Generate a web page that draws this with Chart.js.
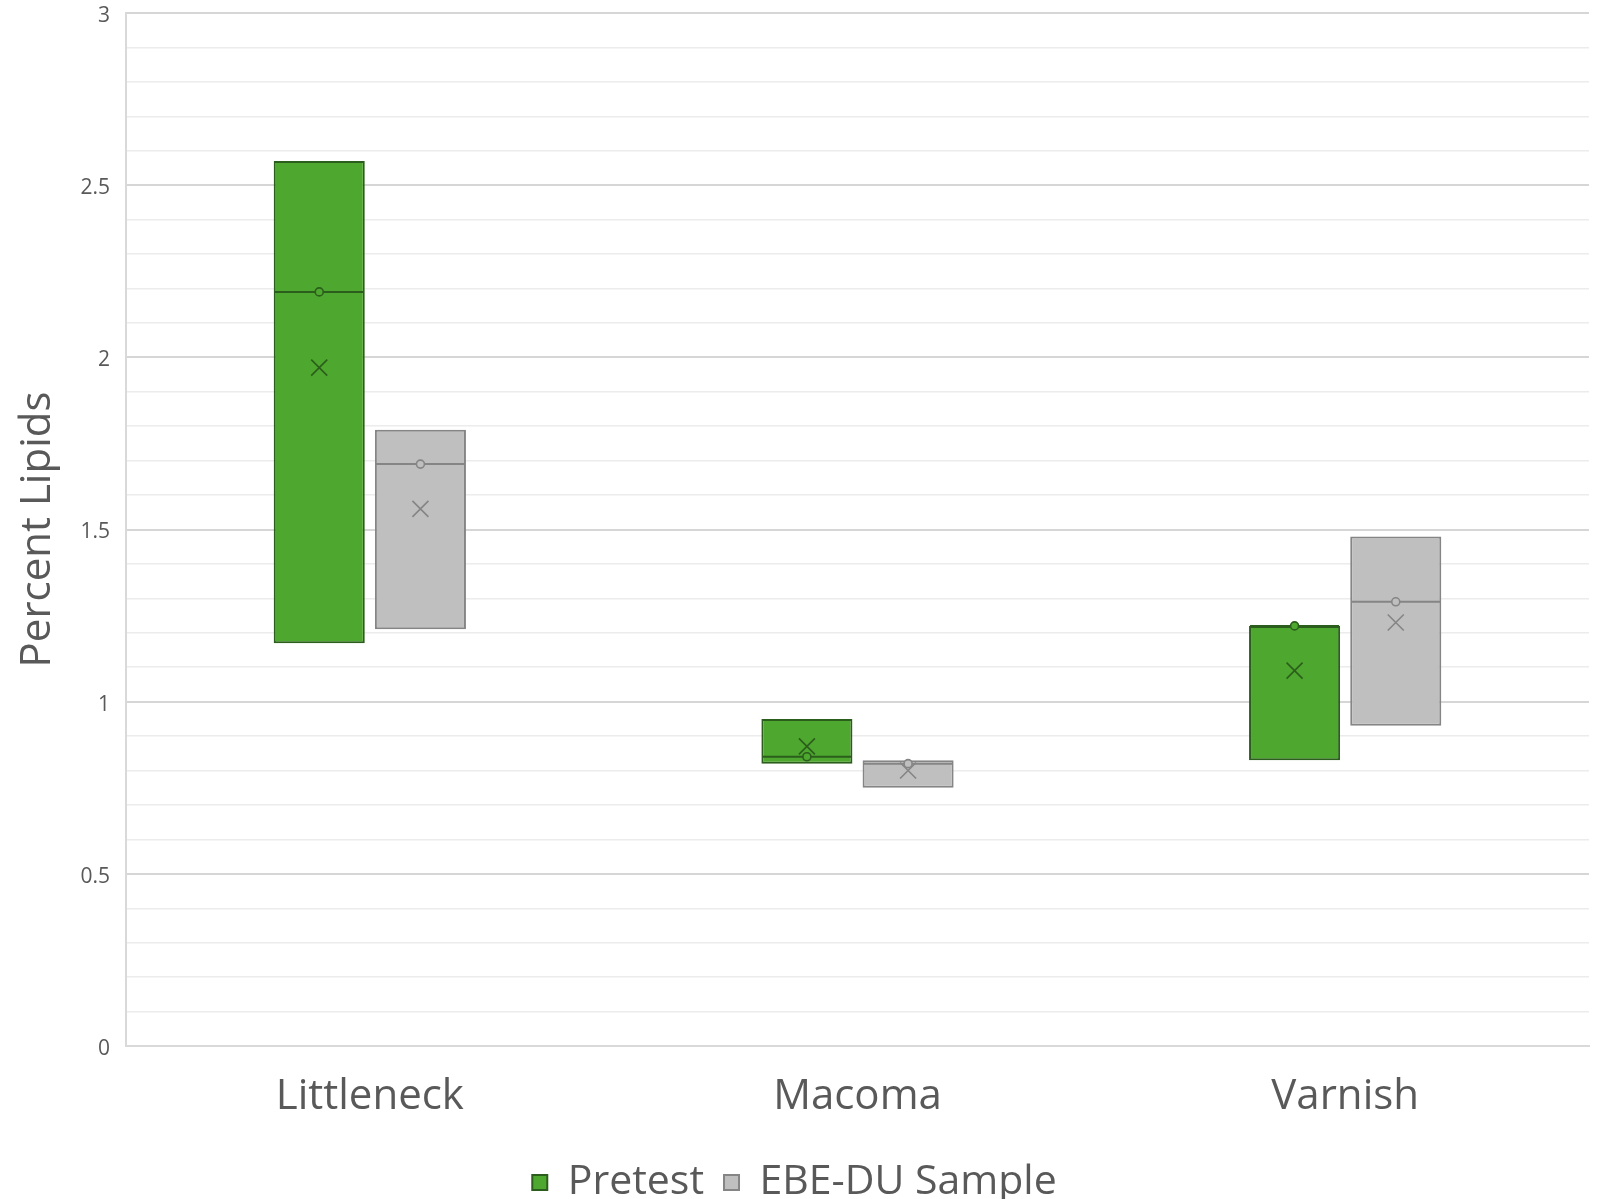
<!DOCTYPE html>
<html>
<head>
<meta charset="utf-8">
<title>Percent Lipids</title>
<script src="https://cdn.jsdelivr.net/npm/chart.js@4"></script>
<style>
  html, body { margin: 0; padding: 0; background: #ffffff; }
  #wrap { width: 1598px; height: 1199px; position: relative; }
</style>
</head>
<body>
<div id="wrap"><canvas id="chart" width="1598" height="1199"></canvas></div>
<script>
// Species groups along the x axis
const categories = ['Littleneck', 'Macoma', 'Varnish'];

// Pretest boxes: lower quartile, upper quartile, median, mean
const pretestQ1 = [1.17, 0.82, 0.83];
const pretestQ3 = [2.57, 0.95, 1.22];
const pretestMedian = [2.19, 0.84, 1.22];
const pretestMean = [1.97, 0.87, 1.09];

// EBE-DU sample boxes
const ebeQ1 = [1.21, 0.75, 0.93];
const ebeQ3 = [1.79, 0.83, 1.48];
const ebeMedian = [1.69, 0.82, 1.29];
const ebeMean = [1.56, 0.80, 1.23];

// Labelled y ticks
const yTickLabels = ['0', '0.5', '1', '1.5', '2', '2.5', '3'];

const TEXT = '#595959';
const FONT = "'Open Sans', 'Noto Sans', sans-serif";

function boxRange(lo, hi) {
  return lo.map((v, i) => [v, hi[i]]);
}

// Draws the median line, median marker and mean cross on each box
const boxMarks = {
  id: 'boxMarks',
  afterDatasetsDraw(chart) {
    const ctx = chart.ctx;
    const yScale = chart.scales.y;
    chart.data.datasets.forEach((ds, di) => {
      const meta = chart.getDatasetMeta(di);
      if (meta.hidden) return;
      meta.data.forEach((bar, i) => {
        const half = bar.width / 2;
        const ym = yScale.getPixelForValue(ds.medians[i]);
        const yMean = yScale.getPixelForValue(ds.means[i]);
        ctx.save();
        ctx.strokeStyle = ds.borderColor;
        ctx.lineWidth = 2;
        ctx.beginPath();
        ctx.moveTo(bar.x - half + 1, ym);
        ctx.lineTo(bar.x + half - 1, ym);
        ctx.stroke();
        ctx.beginPath();
        ctx.arc(bar.x, ym, 4, 0, Math.PI * 2);
        ctx.fillStyle = ds.backgroundColor;
        ctx.fill();
        ctx.lineWidth = 1.6;
        ctx.stroke();
        const s = 8;
        ctx.lineWidth = 1.6;
        ctx.beginPath();
        ctx.moveTo(bar.x - s, yMean - s);
        ctx.lineTo(bar.x + s, yMean + s);
        ctx.moveTo(bar.x + s, yMean - s);
        ctx.lineTo(bar.x - s, yMean + s);
        ctx.stroke();
        ctx.restore();
      });
    });
  }
};

function isHalfStep(v) {
  return Math.abs(v * 2 - Math.round(v * 2)) < 1e-6;
}

new Chart(document.getElementById('chart'), {
  type: 'bar',
  data: {
    labels: categories,
    datasets: [
      {
        label: 'Pretest',
        data: boxRange(pretestQ1, pretestQ3),
        medians: pretestMedian,
        means: pretestMean,
        backgroundColor: '#4ea72e',
        borderColor: '#2b5e1c',
        borderWidth: 2,
        borderSkipped: false,
        categoryPercentage: 0.415,
        barPercentage: 0.9
      },
      {
        label: 'EBE-DU Sample',
        data: boxRange(ebeQ1, ebeQ3),
        medians: ebeMedian,
        means: ebeMean,
        backgroundColor: '#bfbfbf',
        borderColor: '#858585',
        borderWidth: 2,
        borderSkipped: false,
        categoryPercentage: 0.415,
        barPercentage: 0.9
      }
    ]
  },
  options: {
    responsive: false,
    animation: false,
    events: [],
    layout: { padding: { left: 0, right: 9, top: 13, bottom: -14 } },
    plugins: {
      legend: {
        position: 'bottom',
        labels: {
          color: TEXT,
          font: { family: FONT, size: 41 },
          boxWidth: 15,
          boxHeight: 15,
          padding: 20
        }
      },
      tooltip: { enabled: false }
    },
    scales: {
      x: {
        afterFit(scale) { scale.height = 96; },
        grid: { display: false },
        border: { display: true, color: '#d9d9d9', width: 2 },
        ticks: { color: TEXT, font: { family: FONT, size: 42 }, padding: 18 }
      },
      y: {
        min: 0,
        max: 3,
        afterFit(scale) {
          scale.width = 126;
          scale.paddingTop = 0;
          scale.paddingBottom = 0;
        },
        ticks: {
          stepSize: 0.1,
          color: TEXT,
          font: { family: FONT, size: 21 },
          padding: 16,
          labelOffset: 3,
          autoSkip: false,
          callback(value) {
            if (!isHalfStep(value)) return '';
            return yTickLabels[Math.round(value * 2)];
          }
        },
        grid: {
          drawTicks: false,
          color(ctx) {
            return isHalfStep(ctx.tick.value) ? '#d6d6d6' : '#ececec';
          },
          lineWidth(ctx) {
            return isHalfStep(ctx.tick.value) ? 2 : 1.5;
          }
        },
        border: { display: true, color: '#d9d9d9', width: 2 },
        title: {
          display: true,
          text: 'Percent Lipids',
          color: TEXT,
          font: { family: FONT, size: 42 },
          padding: { top: 13, bottom: 0 }
        }
      }
    }
  },
  plugins: [boxMarks]
});
</script>
</body>
</html>
